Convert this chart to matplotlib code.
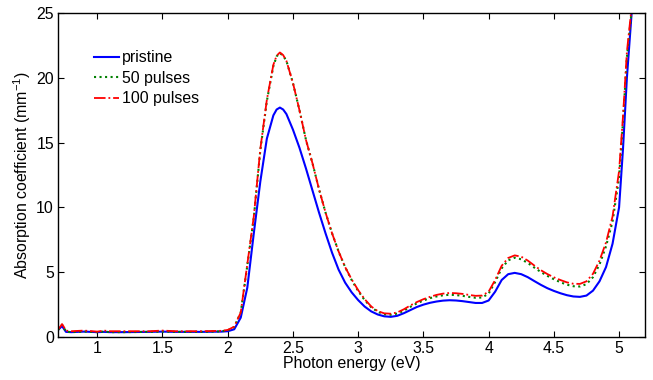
import matplotlib
matplotlib.use("Agg")
import matplotlib.pyplot as plt

plt.rcParams['font.family'] = ['Liberation Sans', 'DejaVu Sans']
plt.rcParams['mathtext.fontset'] = 'custom'
plt.rcParams['mathtext.rm'] = 'Liberation Sans'
plt.rcParams['mathtext.it'] = 'Liberation Sans:italic'

energy = [0.70, 0.72, 0.73, 0.74, 0.76, 0.80, 0.90, 1.00, 1.05, 1.10, 1.20, 1.40, 1.50, 1.60,
          1.80, 1.95, 2.00, 2.05, 2.10, 2.15, 2.20, 2.25, 2.30, 2.35, 2.375, 2.40, 2.425,
          2.45, 2.50, 2.55, 2.60, 2.65, 2.70, 2.75, 2.80, 2.85, 2.90, 2.95, 3.00, 3.05,
          3.10, 3.15, 3.20, 3.25, 3.30, 3.35, 3.40, 3.45, 3.50, 3.55, 3.60, 3.65, 3.70,
          3.75, 3.80, 3.85, 3.90, 3.95, 4.00, 4.05, 4.10, 4.15, 4.20, 4.25, 4.30, 4.35,
          4.40, 4.45, 4.50, 4.55, 4.60, 4.65, 4.70, 4.75, 4.80, 4.85, 4.90, 4.95, 5.00,
          5.03, 5.06, 5.10]

pristine = [0.55, 0.75, 0.85, 0.70, 0.40, 0.38, 0.42, 0.38, 0.40, 0.38, 0.38, 0.40, 0.42, 0.40,
            0.40, 0.42, 0.45, 0.60, 1.50, 3.80, 8.00, 12.0, 15.3, 17.1, 17.55, 17.7, 17.55,
            17.2, 16.0, 14.6, 13.0, 11.3, 9.6, 8.0, 6.5, 5.2, 4.2, 3.45, 2.85, 2.35,
            1.98, 1.74, 1.60, 1.56, 1.64, 1.84, 2.08, 2.32, 2.50, 2.64, 2.74, 2.81, 2.84,
            2.82, 2.77, 2.70, 2.63, 2.63, 2.82, 3.50, 4.40, 4.85, 4.95, 4.85, 4.62, 4.32,
            4.03, 3.77, 3.56, 3.38, 3.23, 3.13, 3.10, 3.20, 3.58, 4.30, 5.40, 7.20, 10.0,
            14.5, 20.0, 25.5]

pulses50 = [0.55, 0.80, 0.95, 0.80, 0.42, 0.38, 0.42, 0.38, 0.42, 0.38, 0.38, 0.40, 0.42, 0.40,
            0.40, 0.44, 0.52, 0.78, 1.90, 5.50, 9.20, 14.4, 18.2, 20.9, 21.65, 21.9, 21.7,
            21.3, 19.6, 17.5, 15.2, 13.4, 11.4, 9.6, 8.0, 6.6, 5.4, 4.4, 3.55, 2.85,
            2.30, 1.95, 1.76, 1.72, 1.81, 2.03, 2.33, 2.60, 2.82, 3.00, 3.13, 3.22, 3.26,
            3.24, 3.18, 3.10, 3.03, 3.05, 3.35, 4.25, 5.30, 5.92, 6.12, 6.00, 5.72, 5.36,
            5.02, 4.72, 4.46, 4.23, 4.04, 3.92, 3.90, 4.08, 4.62, 5.60, 7.00, 8.90, 12.3,
            16.6, 21.6, 25.5]

pulses100 = [0.60, 0.85, 1.00, 0.85, 0.50, 0.45, 0.50, 0.42, 0.50, 0.45, 0.45, 0.45, 0.50, 0.45,
             0.45, 0.48, 0.55, 0.80, 1.90, 5.60, 9.30, 14.5, 18.3, 21.0, 21.7, 21.95, 21.75,
             21.3, 19.6, 17.5, 15.2, 13.4, 11.4, 9.6, 8.0, 6.6, 5.4, 4.45, 3.62, 2.92,
             2.36, 2.00, 1.83, 1.80, 1.90, 2.14, 2.44, 2.70, 2.92, 3.10, 3.25, 3.35, 3.40,
             3.38, 3.33, 3.25, 3.18, 3.20, 3.50, 4.40, 5.50, 6.10, 6.30, 6.20, 5.90, 5.52,
             5.16, 4.86, 4.61, 4.40, 4.22, 4.11, 4.10, 4.30, 4.88, 5.90, 7.30, 9.30, 12.8,
             17.0, 22.0, 25.8]

labels = ['pristine', '50 pulses', '100 pulses']

FS = 11.4

fig = plt.figure(figsize=(6.53, 3.80), dpi=100)
ax = fig.add_axes([0.089, 0.113, 0.899, 0.853])

ax.plot(energy, pristine, color=(0, 0, 1), lw=1.5, ls='-', label=labels[0])
ax.plot(energy, pulses50, color=(0, 0.5, 0), lw=1.5, ls=':', label=labels[1])
ax.plot(energy, pulses100, color=(1, 0, 0), lw=1.3, ls='-.', label=labels[2])

ax.set_xlim(0.7, 5.2)
ax.set_ylim(0, 25)
ax.set_xticks([1, 1.5, 2, 2.5, 3, 3.5, 4, 4.5, 5])
ax.set_xticklabels(['1', '1.5', '2', '2.5', '3', '3.5', '4', '4.5', '5'])
ax.set_yticks([0, 5, 10, 15, 20, 25])
ax.tick_params(direction='in', top=True, right=True, length=4, width=0.8,
               labelsize=FS, pad=3)
for s in ax.spines.values():
    s.set_linewidth(1.0)

ax.set_xlabel('Photon energy (eV)', fontsize=FS, labelpad=0)
ax.set_ylabel('Absorption coefficient (mm$^{-1}$)', fontsize=FS, labelpad=2)

ax.legend(loc='upper left', bbox_to_anchor=(0.05, 0.905), frameon=False, fontsize=FS,
          handlelength=1.6, handletextpad=0.15, labelspacing=0.35, borderaxespad=0)

fig.savefig('out.png', dpi=100)
